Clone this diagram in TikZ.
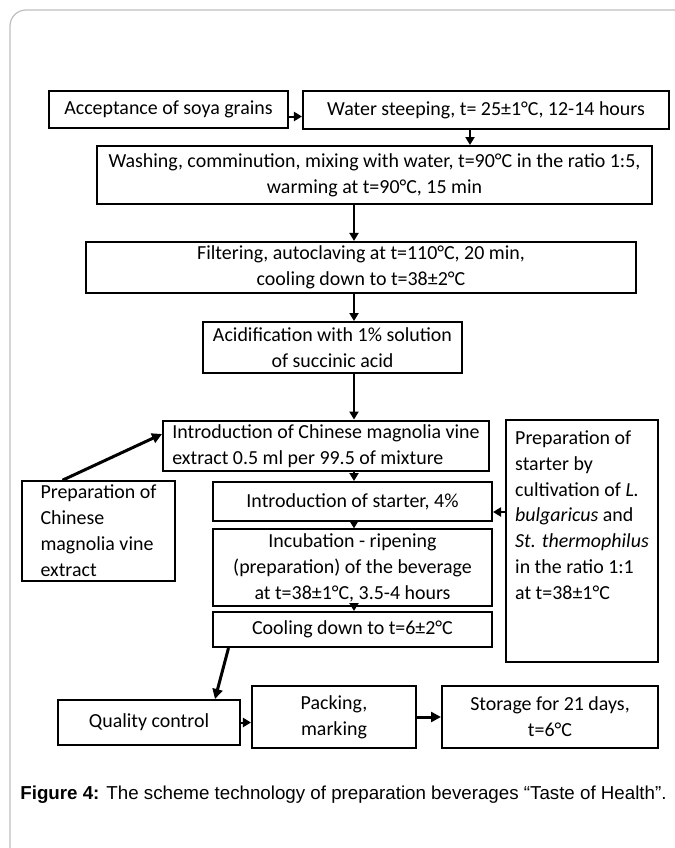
\documentclass[tikz,border=0pt]{standalone}
\usepackage{fontspec}
\setmainfont{Carlito}
\newfontfamily\capfont{Liberation Sans}
\usetikzlibrary{arrows.meta}

\begin{document}
\begin{tikzpicture}[
  x=0.5bp, y=-0.5bp,
  block/.style={rectangle,draw,line width=1bp,align=center,inner sep=2bp,
    font=\fontsize{10}{13}\selectfont},
  arr/.style={draw,line width=1bp,-{Triangle[length=4bp,width=4.5bp]}},
  thickarr/.style={arr,line width=1.5bp,-{Triangle[length=5bp,width=5bp]}}
]
\useasboundingbox (0,0) rectangle (675,848);
\draw[black!25,line width=0.6bp,rounded corners=8bp] (10,10) rectangle (720,900);

\coordinate (col) at (354,0);

\node[block,minimum width=119.5bp,minimum height=18.5bp] (accept) at (168.5,109.5) {Acceptance of soya grains};
\node[block,minimum width=183bp,minimum height=19bp] (steep) at (486,110) {Water steeping, t= 25±1°C, 12-14 hours};
\node[block,minimum width=277.5bp,minimum height=29bp] (wash) at (374.5,175)
  {Washing, comminution, mixing with water, t=90°C in the ratio 1:5,\\ warming at t=90°C, 15 min};
\node[block,minimum width=275bp,minimum height=23.5bp] (filter) at (361,267.5)
  {Filtering, autoclaving at t=110°C, 20 min,\\ cooling down to t=38±2°C};
\node[block,minimum width=129.5bp,minimum height=25.5bp] (acid) at (332.5,347.5)
  {Acidification with 1\% solution\\ of succinic acid};
\node[block,align=left,minimum width=163bp,minimum height=24bp] (introchin) at (326,446)
  {Introduction of Chinese magnolia vine\\ extract 0.5 ml per 99.5 of mixture};
\node[block,align=left,minimum width=76bp,minimum height=121bp] (prepstart) at (582,541)
  {Preparation of\\ starter by\\ cultivation of \textit{L.}\\ \textit{bulgaricus} and\\ \textit{St. thermophilus}\\ in the ratio 1:1\\ at t=38±1°C\\ \mbox{}\\ \mbox{}};
\node[block,align=left,minimum width=76.5bp,minimum height=49bp] (prepext) at (98.5,531)
  {Preparation of\\ Chinese\\ magnolia vine\\ extract};
\node[block,minimum width=139.5bp,minimum height=19.5bp] (introstart) at (352.5,501.5) {Introduction of starter, 4\%};
\node[block,minimum width=139.5bp,minimum height=37bp] (incub) at (352.5,567.5)
  {Incubation - ripening\\ (preparation) of the beverage\\ at t=38±1°C, 3.5-4 hours};
\node[block,minimum width=139.5bp,minimum height=17.5bp] (cool) at (352.5,629.5) {Cooling down to t=6±2°C};
\node[block,minimum width=91bp,minimum height=22.5bp] (quality) at (149,722.5) {Quality control};
\node[block,minimum width=82bp,minimum height=31bp] (packing) at (334,717) {Packing,\\ marking};
\node[block,minimum width=108bp,minimum height=31bp] (storage) at (550,717) {Storage for 21 days,\\ t=6°C};

\draw[arr] ([yshift=-3.5bp]accept.east) -- ([yshift=-3.5bp]accept.east -| steep.west);
\draw[arr] ([xshift=-8bp]steep.south) -- ([xshift=-8bp]steep.south |- wash.north);
\draw[arr] (wash.south -| col) -- (filter.north -| col);
\draw[arr] (filter.south -| col) -- (acid.north -| col);
\draw[arr] (acid.south -| col) -- (introchin.north -| col);
\draw[arr] (introchin.south -| col) -- (introstart.north -| col);
\draw[arr] (introstart.south -| col) -- (incub.north -| col);
\draw[arr] (incub.south -| col) -- (cool.north -| col);
\draw[thickarr] ([xshift=-18bp]prepext.north) -- ([yshift=6bp]introchin.west);
\coordinate (r8) at (0,512);
\draw[arr] (prepstart.west |- r8) -- (introstart.east |- r8);
\draw[thickarr] ([xshift=-62bp]cool.south) -- ([xshift=33bp]quality.north);
\draw[arr] (quality.east) -- (quality.east -| packing.west);
\draw[thickarr] (packing.east) -- (storage.west);

\node[anchor=west,inner sep=0pt,font=\capfont\fontsize{9.4}{11}\selectfont] (caption) at (20,795)
  {\textbf{Figure 4:} The scheme technology of preparation beverages “Taste of Health”.};
\end{tikzpicture}
\end{document}
